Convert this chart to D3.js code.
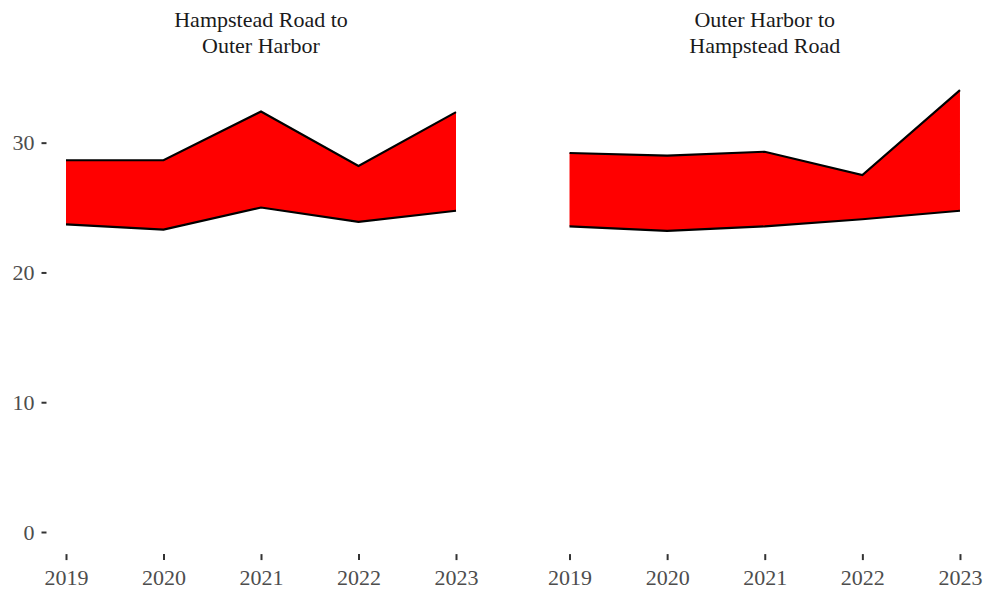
<!DOCTYPE html>
<html><head><meta charset="utf-8">
<script src="https://cdn.jsdelivr.net/npm/d3@7"></script>
<style>body{margin:0;background:#fff}svg{display:block}</style>
</head><body>
<svg id="c" width="986" height="595"></svg>
<script>
const years = [2019, 2020, 2021, 2022, 2023];
const panelTitles = [["Hampstead Road to", "Outer Harbor"], ["Outer Harbor to", "Hampstead Road"]];
const lowerHR = [23.7, 23.3, 25.0, 23.9, 24.75];
const upperHR = [28.65, 28.65, 32.4, 28.2, 32.35];
const lowerOH = [23.55, 23.2, 23.55, 24.1, 24.75];
const upperOH = [29.2, 29.0, 29.3, 27.5, 34.05];
const yTicks = [0, 10, 20, 30];

const FONT = '"Liberation Serif"';
const panels = [
  {title: panelTitles[0], lower: lowerHR, upper: upperHR, x0: 46.5, x1: 475.5},
  {title: panelTitles[1], lower: lowerOH, upper: upperOH, x0: 550, x1: 979.5}
];
const svg = d3.select("#c");
const y = d3.scaleLinear().domain([-1.7025, 35.7525]).range([554.1, 68]);

panels.forEach((p, i) => {
  const x = d3.scaleLinear().domain([2018.8, 2023.2]).range([p.x0, p.x1]);
  const data = years.map((yr, k) => ({yr, lo: p.lower[k], hi: p.upper[k]}));
  const g = svg.append("g");
  g.append("path").datum(data)
    .attr("d", d3.area().x(d => x(d.yr)).y0(d => y(d.lo)).y1(d => y(d.hi)))
    .attr("fill", "#FF0000");
  ["lo", "hi"].forEach(key => {
    g.append("path").datum(data)
      .attr("d", d3.line().x(d => x(d.yr)).y(d => y(d[key])))
      .attr("fill", "none").attr("stroke", "#000").attr("stroke-width", 2.1);
  });
  const xa = g.append("g").attr("transform", `translate(0,${y.range()[0]})`)
    .call(d3.axisBottom(x).tickValues(years).tickFormat(d3.format("d")).tickSize(6).tickPadding(9));
  xa.select(".domain").remove();
  xa.selectAll("line").attr("stroke", "#333").attr("stroke-width", 2);
  xa.selectAll("text").style("font-family", FONT).style("font-size", "22px").attr("fill", "#4d4d4d");
  const cx = (p.x0 + p.x1) / 2;
  p.title.forEach((t, k) => {
    g.append("text").attr("x", cx).attr("y", 27 + k * 26).attr("text-anchor", "middle")
      .style("font-family", FONT).style("font-size", "22px").attr("fill", "#1a1a1a").text(t);
  });
});

const ya = svg.append("g").attr("transform", `translate(${panels[0].x0},0)`)
  .call(d3.axisLeft(y).tickValues(yTicks).tickSize(5).tickPadding(7));
ya.select(".domain").remove();
ya.selectAll("line").attr("stroke", "#333").attr("stroke-width", 2);
ya.selectAll("text").style("font-family", FONT).style("font-size", "22px").attr("fill", "#4d4d4d");
</script>
</body></html>
